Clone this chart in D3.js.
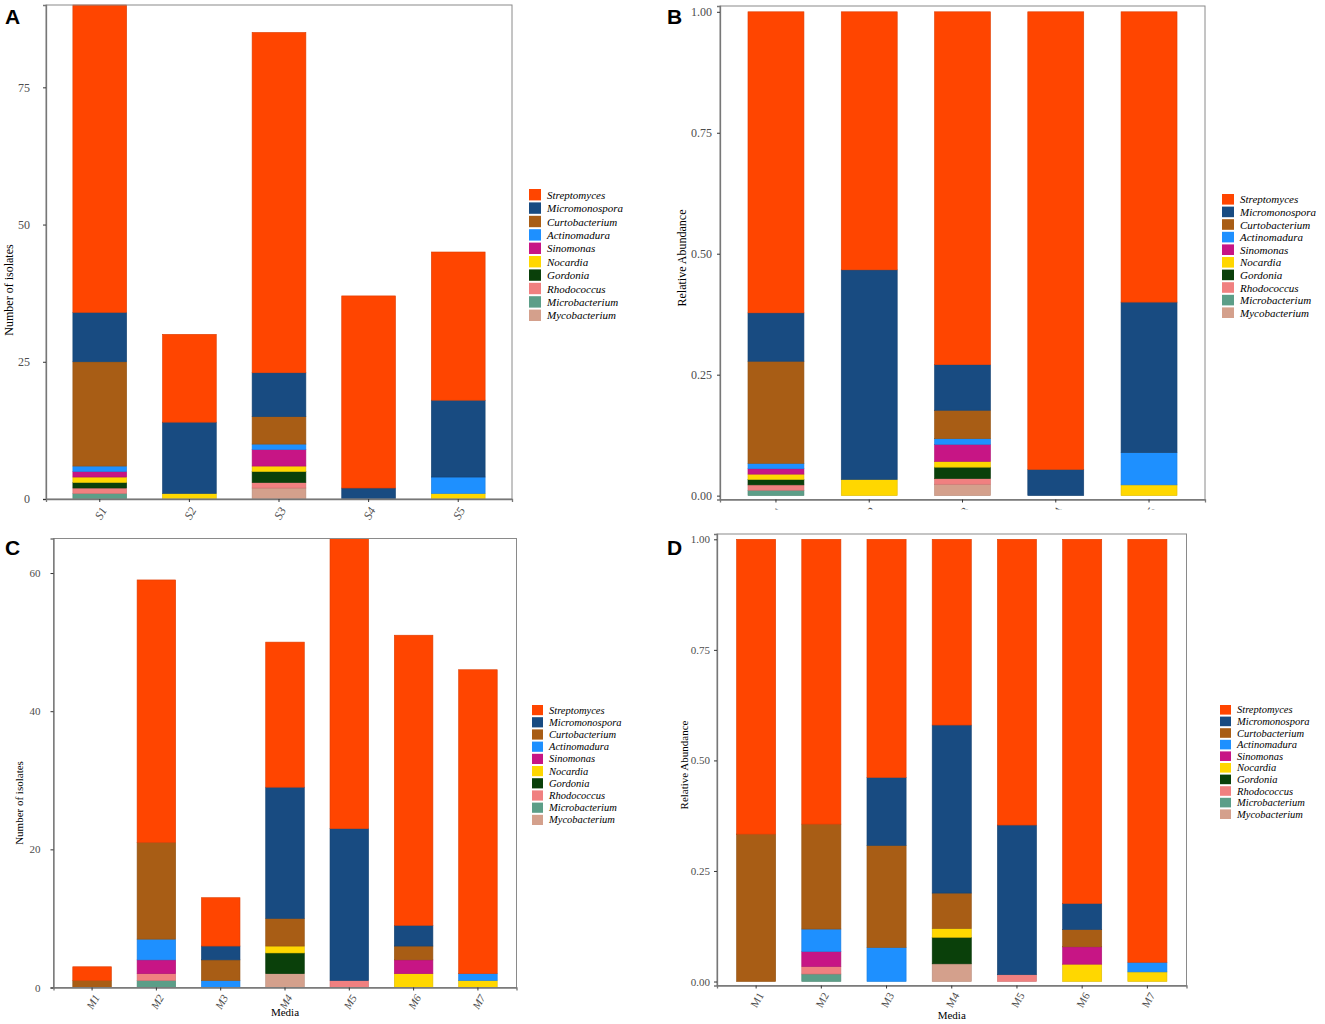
<!DOCTYPE html>
<html lang="en">
<head>
<meta charset="utf-8">
<script src="https://d3js.org/d3.v7.min.js"></script>
<title>Isolates by sample and media</title>
<style>
  body { margin: 0; background: #fff; }
  svg { display: block; }
</style>
</head>
<body>
<div id="container"></div>
<script>
// genera, legend order (top of stack first)
const genera = ["Streptomyces", "Micromonospora", "Curtobacterium", "Actinomadura", "Sinomonas",
                "Nocardia", "Gordonia", "Rhodococcus", "Microbacterium", "Mycobacterium"];
const generaColors = ["#FF4500", "#184B81", "#A85D15", "#1E90FF", "#C71585",
                      "#FFD700", "#0A400A", "#F08080", "#5C9E88", "#D4A08C"];

// samples S1..S5 (panels A, B)
const samples = ["S1", "S2", "S3", "S4", "S5"];
const streptomycesS   = [56, 16, 62, 35, 27];
const micromonosporaS = [9, 13, 8, 2, 14];
const curtobacteriumS = [19, 0, 5, 0, 0];
const actinomaduraS   = [1, 0, 1, 0, 3];
const sinomonasS      = [1, 0, 3, 0, 0];
const nocardiaS       = [1, 1, 1, 0, 1];
const gordoniaS       = [1, 0, 2, 0, 0];
const rhodococcusS    = [1, 0, 1, 0, 0];
const microbacteriumS = [1, 0, 0, 0, 0];
const mycobacteriumS  = [0, 0, 2, 0, 0];

// media M1..M7 (panels C, D)
const media = ["M1", "M2", "M3", "M4", "M5", "M6", "M7"];
const streptomycesM   = [2, 38, 7, 21, 42, 42, 44];
const micromonosporaM = [0, 0, 2, 19, 22, 3, 0];
const curtobacteriumM = [1, 14, 3, 4, 0, 2, 0];
const actinomaduraM   = [0, 3, 1, 0, 0, 0, 1];
const sinomonasM      = [0, 2, 0, 0, 0, 2, 0];
const nocardiaM       = [0, 0, 0, 1, 0, 2, 1];
const gordoniaM       = [0, 0, 0, 3, 0, 0, 0];
const rhodococcusM    = [0, 1, 0, 0, 1, 0, 0];
const microbacteriumM = [0, 1, 0, 0, 0, 0, 0];
const mycobacteriumM  = [0, 0, 0, 2, 0, 0, 0];

const ticksA = [0, 25, 50, 75];
const ticksC = [0, 20, 40, 60];
const ticksRel = [0, 0.25, 0.5, 0.75, 1];

const sampleSeries = [streptomycesS, micromonosporaS, curtobacteriumS, actinomaduraS, sinomonasS,
                      nocardiaS, gordoniaS, rhodococcusS, microbacteriumS, mycobacteriumS];
const mediaSeries = [streptomycesM, micromonosporaM, curtobacteriumM, actinomaduraM, sinomonasM,
                     nocardiaM, gordoniaM, rhodococcusM, microbacteriumM, mycobacteriumM];

const W = 1325, H = 1024;
const SERIF = "'Liberation Serif', 'Times New Roman', serif";

const svg = d3.select("#container").append("svg")
  .attr("width", W).attr("height", H);

const color = d3.scaleOrdinal().domain(genera).range(generaColors);

let clipId = 0;

function drawPanel(p) {
  // build rows from the arrays
  const rows = p.cats.map((c, i) => {
    const row = { cat: c };
    let tot = 0;
    genera.forEach((g, k) => { tot += p.series[k][i]; });
    genera.forEach((g, k) => { row[g] = p.relative ? p.series[k][i] / tot : p.series[k][i]; });
    return row;
  });

  // bottom of stack is last genus in legend
  const stack = d3.stack().keys(genera.slice().reverse());
  const layers = stack(rows);

  // bar width 0.6 of step, 0.6 step from the edges to first/last bar centre
  const x = d3.scaleBand().domain(p.cats)
    .range([p.left, p.right]).paddingInner(0.4).paddingOuter(0.3);
  const y = d3.scaleLinear().domain(p.ydomain).range([p.bottom, p.top]);

  const g = svg.append("g");

  g.selectAll("g.layer")
    .data(layers)
    .enter().append("g")
    .attr("class", "layer")
    .attr("fill", d => color(d.key))
    .attr("stroke", d => d3.color(color(d.key)).darker(0.4))
    .attr("stroke-width", 0.6)
    .selectAll("rect")
    .data(d => d.filter(s => s[1] - s[0] > 0))
    .enter().append("rect")
    .attr("x", d => x(d.data.cat))
    .attr("width", x.bandwidth())
    .attr("y", d => y(d[1]))
    .attr("height", d => y(d[0]) - y(d[1]));

  // panel border
  g.append("rect")
    .attr("x", p.left).attr("y", p.top)
    .attr("width", p.right - p.left).attr("height", p.bottom - p.top)
    .attr("fill", "none").attr("stroke", "#8a8a8a").attr("stroke-width", 1);

  // y axis
  const yAxis = d3.axisLeft(y).tickValues(p.ticks).tickSize(3).tickPadding(p.tickPad)
    .tickFormat(p.relative ? d3.format(".2f") : d3.format("d"));
  const ya = g.append("g").attr("transform", `translate(${p.left},0)`).call(yAxis);
  ya.select(".domain").attr("stroke", "#777").attr("stroke-width", 1.3);
  ya.selectAll(".tick line").attr("stroke", "#333");
  ya.selectAll("text").attr("font-family", SERIF).attr("font-size", p.fs).attr("fill", "#4d4d4d");

  // x axis
  const xAxis = d3.axisBottom(x).tickSize(3).tickFormat("");
  const xa = g.append("g").attr("transform", `translate(0,${p.bottom})`).call(xAxis);
  xa.select(".domain").attr("stroke", "#777").attr("stroke-width", 1.3);
  xa.selectAll(".tick line").attr("stroke", "#333");

  let labelG = g.append("g");
  if (p.clipLabels) {
    const id = "clip" + (clipId++);
    svg.append("clipPath").attr("id", id).append("rect")
      .attr("x", p.left).attr("y", p.bottom).attr("width", p.right - p.left).attr("height", p.clipLabels);
    labelG.attr("clip-path", `url(#${id})`);
  }
  labelG.selectAll("text")
    .data(p.cats)
    .enter().append("text")
    .attr("transform", d => `translate(${x(d) + x.bandwidth() / 2 + 2},${p.bottom + 15}) rotate(-60)`)
    .attr("text-anchor", "middle")
    .attr("dominant-baseline", "middle")
    .attr("font-family", SERIF)
    .attr("font-size", p.fs)
    .attr("font-style", p.italicX ? "italic" : "normal")
    .attr("fill", "#4d4d4d")
    .text(d => d);

  // axis titles
  g.append("text")
    .attr("transform", `translate(${p.ytitleX},${p.ytitleY}) rotate(-90)`)
    .attr("text-anchor", "middle")
    .attr("font-family", SERIF).attr("font-size", p.fs).attr("fill", "#000")
    .text(p.ytitle);
  if (p.xtitle) {
    g.append("text")
      .attr("x", (p.left + p.right) / 2).attr("y", p.xtitleY)
      .attr("text-anchor", "middle")
      .attr("font-family", SERIF).attr("font-size", p.fs).attr("fill", "#000")
      .text(p.xtitle);
  }

  // panel letter
  svg.append("text")
    .attr("x", p.letterX).attr("y", p.letterY)
    .attr("font-family", "'Liberation Sans', Arial, sans-serif")
    .attr("font-weight", "bold").attr("font-size", 21)
    .text(p.letter);

  // legend
  const lg = svg.append("g").attr("transform", `translate(${p.legX},${p.legY})`);
  const items = lg.selectAll("g").data(genera).enter().append("g")
    .attr("transform", (d, i) => `translate(0,${i * p.legStep})`);
  items.append("rect")
    .attr("width", p.legKey).attr("height", p.legStep - 2)
    .attr("fill", d => color(d));
  items.append("text")
    .attr("x", p.legKey + 6).attr("y", (p.legStep - 2) / 2)
    .attr("dominant-baseline", "central")
    .attr("font-family", SERIF).attr("font-style", "italic")
    .attr("font-size", p.legFs).attr("fill", "#000")
    .text(d => d);
}

drawPanel({
  letter: "A", letterX: 5, letterY: 24,
  cats: samples, series: sampleSeries, relative: false,
  left: 46, right: 512, top: 5, bottom: 499, ydomain: [0, 90], ticks: ticksA,
  fs: 12, tickPad: 13, italicX: true, clipLabels: 0,
  ytitle: "Number of isolates", ytitleX: 13, ytitleY: 290,
  legX: 529, legY: 189, legStep: 13.4, legKey: 12, legFs: 11
});

drawPanel({
  letter: "B", letterX: 667, letterY: 24,
  cats: samples, series: sampleSeries, relative: true,
  left: 720, right: 1205, top: 6, bottom: 499.5, ydomain: [-0.008, 1.012], ticks: ticksRel,
  fs: 12, tickPad: 5, italicX: false, clipLabels: 10,
  ytitle: "Relative Abundance", ytitleX: 686, ytitleY: 258,
  legX: 1222, legY: 194, legStep: 12.6, legKey: 12, legFs: 11
});

drawPanel({
  letter: "C", letterX: 5, letterY: 555,
  cats: media, series: mediaSeries, relative: false,
  left: 53.5, right: 516.5, top: 538.5, bottom: 987.5, ydomain: [0, 65], ticks: ticksC,
  fs: 11, tickPad: 10, italicX: true, clipLabels: 0,
  ytitle: "Number of isolates", ytitleX: 23, ytitleY: 803,
  xtitle: "Media", xtitleY: 1016,
  legX: 532, legY: 705, legStep: 12.2, legKey: 11, legFs: 10.5
});

drawPanel({
  letter: "D", letterX: 667, letterY: 555,
  cats: media, series: mediaSeries, relative: true,
  left: 717, right: 1186.5, top: 534, bottom: 985.5, ydomain: [-0.009, 1.012], ticks: ticksRel,
  fs: 11, tickPad: 4, italicX: false, clipLabels: 0,
  ytitle: "Relative Abundance", ytitleX: 688, ytitleY: 765,
  xtitle: "Media", xtitleY: 1019,
  legX: 1220, legY: 705, legStep: 11.6, legKey: 11, legFs: 10.5
});
</script>
</body>
</html>
